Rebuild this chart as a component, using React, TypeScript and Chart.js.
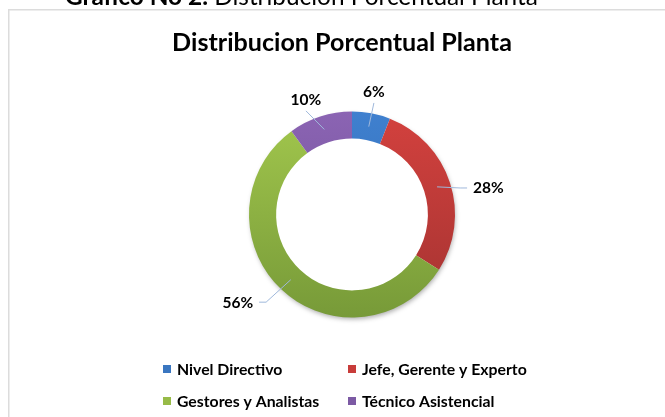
import React, { useEffect, useRef } from "react";
import { Chart, registerables } from "chart.js";

Chart.register(...registerables);

// ---- data ----
const categories = ["Nivel Directivo", "Jefe, Gerente y Experto", "Gestores y Analistas", "Técnico Asistencial"];
const values = [6, 28, 56, 10];
const valueLabels = ["6%", "28%", "56%", "10%"];
const chartTitle = "Distribucion Porcentual Planta";
const captionBold = "Gráfico No 2.";
const captionRest = " Distribución Porcentual Planta";

// ---- styles ----
const topColors = ["#3f80cf", "#d3413e", "#a2c74d", "#8b64b3"];
const bottomColors = ["#2f67aa", "#a43331", "#779a38", "#6a4b93"];
const legendColors = ["#3a76c0", "#c83c3a", "#97bb48", "#7c5aa4"];
const FONT = "Lato, 'Open Sans', sans-serif";
const OUTER_R = 103;
const INNER_R = 77;
const TITLE_WIDTH = 340;
// label placement relative to each slice's mid angle: radius (px) and angle tweak (deg)
const labelPlacement = [
  { r: 125, da: -0.7 },
  { r: 139, da: 7 },
  { r: 144, da: 9.3 },
  { r: 124, da: -3.8 },
];
const legendCols = [163, 348];
const legendRows = [369, 401];

function App() {
  const ref = useRef<HTMLCanvasElement | null>(null);

  useEffect(() => {
    const canvas = ref.current;
    if (!canvas) return;

    const framePlugin = {
      id: "frame",
      beforeDraw(chart: any) {
        const ctx = chart.ctx;
        ctx.save();
        ctx.fillStyle = "#dcdcdc";
        ctx.fillRect(8, 9, 657, 1.5);
        ctx.fillRect(8, 9, 1.5, 408);
        // caption (cut by the top of the page)
        ctx.fillStyle = "#000";
        ctx.textBaseline = "alphabetic";
        ctx.font = `bold 22px ${FONT}`;
        const wb = ctx.measureText(captionBold).width;
        ctx.font = `22px ${FONT}`;
        const wr = ctx.measureText(captionRest).width;
        const size = (22 * 473) / (wb + wr);
        ctx.font = `bold ${size}px ${FONT}`;
        const wb2 = ctx.measureText(captionBold).width;
        ctx.fillText(captionBold, 65, 5);
        ctx.font = `${size}px ${FONT}`;
        ctx.fillText(captionRest, 65 + wb2, 5);
        // title
        ctx.font = `bold 22px ${FONT}`;
        const tw = ctx.measureText(chartTitle).width;
        const ts = (22 * TITLE_WIDTH) / tw;
        ctx.font = `bold ${ts}px ${FONT}`;
        ctx.textAlign = "center";
        ctx.fillText(chartTitle, 342, 50.5);
        ctx.restore();
      },
    };

    const shadowPlugin = {
      id: "ringShadow",
      beforeDatasetsDraw(chart: any) {
        const arc = chart.getDatasetMeta(0).data[0];
        if (!arc) return;
        const ctx = chart.ctx;
        ctx.save();
        ctx.shadowColor = "rgba(0,0,0,0.35)";
        ctx.shadowBlur = 5;
        ctx.shadowOffsetX = 1;
        ctx.shadowOffsetY = 2.5;
        ctx.fillStyle = "#ffffff";
        ctx.beginPath();
        ctx.arc(arc.x, arc.y, arc.outerRadius - 1, 0, Math.PI * 2);
        ctx.fill();
        ctx.restore();
        ctx.save();
        ctx.fillStyle = "#ffffff";
        ctx.beginPath();
        ctx.arc(arc.x, arc.y, arc.innerRadius + 1, 0, Math.PI * 2);
        ctx.fill();
        ctx.restore();
      },
    };

    const labelPlugin = {
      id: "valueLabels",
      afterDatasetsDraw(chart: any) {
        const ctx = chart.ctx;
        const meta = chart.getDatasetMeta(0);
        ctx.save();
        ctx.font = `bold 15.5px ${FONT}`;
        const capH = 11;
        meta.data.forEach((arc: any, i: number) => {
          const { x, y, startAngle, endAngle, innerRadius, outerRadius } = arc;
          const mid = (startAngle + endAngle) / 2;
          const rMid = (innerRadius + outerRadius) / 2;
          const ax = x + Math.cos(mid) * rMid;
          const ay = y + Math.sin(mid) * rMid;
          const p = labelPlacement[i];
          const la = mid + (p.da * Math.PI) / 180;
          const lx = x + Math.cos(la) * p.r;
          const ly = y + Math.sin(la) * p.r;
          const text = valueLabels[i];
          const w = ctx.measureText(text).width;
          // leader line
          ctx.strokeStyle = "#9fb8db";
          ctx.lineWidth = 1;
          ctx.beginPath();
          ctx.moveTo(ax, ay);
          if (Math.abs(Math.cos(la)) > 0.7) {
            const dir = lx > x ? -1 : 1;
            const ex = lx + dir * (w / 2 + 6);
            ctx.lineTo(ex + dir * 7, ly);
            ctx.lineTo(ex, ly);
          } else {
            const dir = ly < y ? 1 : -1;
            ctx.lineTo(lx, ly + dir * (capH / 2 + 6));
          }
          ctx.stroke();
          ctx.fillStyle = "#000";
          ctx.textAlign = "center";
          ctx.textBaseline = "alphabetic";
          ctx.fillText(text, lx, ly + capH / 2);
        });
        ctx.restore();
      },
    };

    const legendPlugin = {
      id: "gridLegend",
      afterDraw(chart: any) {
        const ctx = chart.ctx;
        ctx.save();
        ctx.font = `bold 15.8px ${FONT}`;
        ctx.textBaseline = "alphabetic";
        ctx.textAlign = "left";
        categories.forEach((name, i) => {
          const cx = legendCols[i % 2];
          const cy = legendRows[Math.floor(i / 2)];
          ctx.fillStyle = legendColors[i];
          ctx.fillRect(cx, cy - 4, 8, 8);
          ctx.fillStyle = "#000";
          ctx.fillText(name, cx + 14, cy + 5.6);
        });
        ctx.restore();
      },
    };

    const chart = new Chart(canvas, {
      type: "doughnut",
      data: {
        labels: categories,
        datasets: [
          {
            data: values,
            borderWidth: 0,
            hoverOffset: 0,
            backgroundColor: (c: any) => {
              const area = c.chart.chartArea;
              const i = c.dataIndex;
              if (!area) return topColors[i];
              const cy = (area.top + area.bottom) / 2;
              const g = c.chart.ctx.createLinearGradient(0, cy - OUTER_R, 0, cy + OUTER_R);
              g.addColorStop(0, topColors[i]);
              g.addColorStop(1, bottomColors[i]);
              return g;
            },
          },
        ],
      },
      options: {
        animation: false,
        responsive: false,
        events: [],
        radius: OUTER_R,
        cutout: INNER_R,
        layout: { padding: { top: 110, bottom: 98, left: 80, right: 41 } },
        plugins: {
          legend: { display: false },
          title: { display: false },
          tooltip: { enabled: false },
        },
      } as any,
      plugins: [framePlugin, shadowPlugin, labelPlugin, legendPlugin],
    });

    return () => chart.destroy();
  }, []);

  return (
    <div style={{ position: "absolute", left: 0, top: 0, width: 665, height: 417, background: "#fff" }}>
      <canvas ref={ref} width={665} height={417} style={{ width: 665, height: 417, display: "block" }} />
    </div>
  );
}

export default App;
